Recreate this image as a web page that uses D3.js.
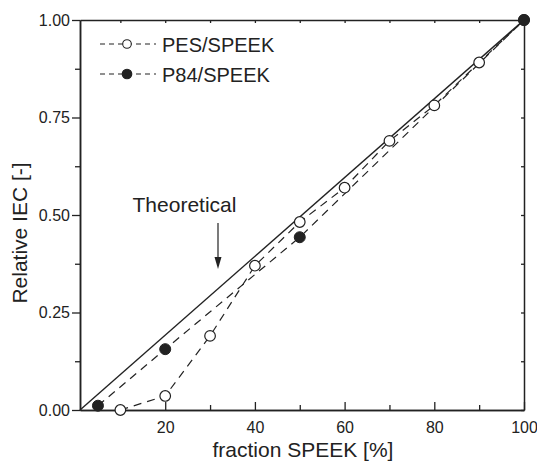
<!DOCTYPE html>
<html>
<head>
<meta charset="utf-8">
<script src="https://cdn.jsdelivr.net/npm/d3@7/dist/d3.min.js"></script>
<style>
  html, body { margin: 0; padding: 0; background: #fff; }
  svg { display: block; }
  text { font-family: "Liberation Sans", Arial, Helvetica, sans-serif; fill: #222; }
</style>
</head>
<body>
<svg id="chart" width="537" height="467"></svg>
<script>
// Relative ion exchange capacity of SPEEK blends
const pesFraction = [10, 20, 30, 40, 50, 60, 70, 80, 90, 100];
const pesIEC      = [0.00, 0.036, 0.19, 0.37, 0.482, 0.57, 0.69, 0.781, 0.891, 1.00];
const p84Fraction = [5, 20, 50, 100];
const p84IEC      = [0.011, 0.156, 0.443, 1.00];
const theoFraction = [1, 100];
const theoIEC      = [0, 1];
const xTickValues = [20, 40, 60, 80, 100];
const xMinorValues = [10, 30, 50, 70, 90];
const yTickValues = [0, 0.25, 0.5, 0.75, 1];
const yMinorValues = [0.125, 0.375, 0.625, 0.875];
const seriesNames = ["PES/SPEEK", "P84/SPEEK"];

const svg = d3.select("#chart");
const margin = { left: 80, top: 20, right: 13, bottom: 57 };
const W = 537, H = 467;
const x = d3.scaleLinear().domain([1, 100]).range([margin.left, W - margin.right]);
const y = d3.scaleLinear().domain([0, 1]).range([H - margin.bottom, margin.top]);
const ink = "#222";

// Axes: labelled bottom/left, plain mirror axes on top/right
const axisB = d3.axisBottom(x).tickValues(xTickValues).tickSize(-8).tickSizeOuter(0).tickPadding(12).tickFormat(d3.format("d"));
const axisBMinor = d3.axisBottom(x).tickValues(xMinorValues).tickSize(-5).tickSizeOuter(0).tickFormat("");
const axisL = d3.axisLeft(y).tickValues(yTickValues).tickSize(8).tickSizeOuter(0).tickPadding(2).tickFormat(d3.format(".2f"));
const axisLMinor = d3.axisLeft(y).tickValues(yMinorValues).tickSize(5).tickSizeOuter(0).tickFormat("");
const axisT = d3.axisTop(x).tickValues(xTickValues.concat(xMinorValues)).tickSize(-3).tickSizeOuter(0).tickFormat("");
const axisR = d3.axisRight(y).tickValues(yTickValues.concat(yMinorValues)).tickSize(-3).tickSizeOuter(0).tickFormat("");

function styleAxis(g) {
  g.selectAll("path").attr("stroke", ink).attr("stroke-width", 1.5);
  g.selectAll("line").attr("stroke", ink).attr("stroke-width", 1.3);
  g.selectAll("text").attr("font-size", 16).style("fill", ink);
}

svg.append("g").attr("transform", `translate(0,${y(0)})`).call(axisB).call(styleAxis);
svg.append("g").attr("transform", `translate(0,${y(0)})`).call(axisBMinor).call(styleAxis);
svg.append("g").attr("transform", `translate(${x(1)},0)`).call(axisL).call(styleAxis);
svg.append("g").attr("transform", `translate(${x(1)},0)`).call(axisLMinor).call(styleAxis);
svg.append("g").attr("transform", `translate(0,${y(1)})`).call(axisT).call(styleAxis);
svg.append("g").attr("transform", `translate(${x(100)},0)`).call(axisR).call(styleAxis);

// Axis titles
svg.append("text")
  .attr("x", (x(1) + x(100)) / 2 + 1).attr("y", 457)
  .attr("text-anchor", "middle").attr("font-size", 21)
  .text("fraction SPEEK [%]");
svg.append("text")
  .attr("transform", `translate(27,${(y(0) + y(1)) / 2 + 18}) rotate(-90)`)
  .attr("text-anchor", "middle").attr("font-size", 21)
  .text("Relative IEC [-]");

// Theoretical line
const line = d3.line().x(d => x(d[0])).y(d => y(d[1]));
svg.append("path")
  .datum(d3.zip(theoFraction, theoIEC))
  .attr("d", line).attr("fill", "none").attr("stroke", ink).attr("stroke-width", 1.4);

// Measured series
const pes = d3.zip(pesFraction, pesIEC);
const p84 = d3.zip(p84Fraction, p84IEC);
[pes, p84].forEach(data => {
  svg.append("path").datum(data).attr("d", line)
    .attr("fill", "none").attr("stroke", ink).attr("stroke-width", 1.2)
    .attr("stroke-dasharray", "8,6");
});
svg.append("g").selectAll("circle").data(pes).join("circle")
  .attr("cx", d => x(d[0])).attr("cy", d => y(d[1])).attr("r", 5.3)
  .attr("fill", "#fff").attr("stroke", ink).attr("stroke-width", 1.2);
svg.append("g").selectAll("circle").data(p84).join("circle")
  .attr("cx", d => x(d[0])).attr("cy", d => y(d[1])).attr("r", 5.5)
  .attr("fill", ink).attr("stroke", ink).attr("stroke-width", 1);

// Annotation for the theoretical line
svg.append("text").attr("x", 184.5).attr("y", 212)
  .attr("text-anchor", "middle").attr("font-size", 21).text("Theoretical");
svg.append("line").attr("x1", 218).attr("x2", 218).attr("y1", 223).attr("y2", 260)
  .attr("stroke", ink).attr("stroke-width", 1.2);
svg.append("path").attr("d", "M214.5,257 L221.5,257 L218,269 Z").attr("fill", ink);

// Legend
const legend = svg.append("g");
seriesNames.forEach((name, i) => {
  const ly = 44 + i * 30;
  const row = legend.append("g");
  row.append("line").attr("x1", 100).attr("x2", 156).attr("y1", ly).attr("y2", ly)
    .attr("stroke", ink).attr("stroke-width", 1.2).attr("stroke-dasharray", "5,4");
  row.append("circle").attr("cx", 127).attr("cy", ly).attr("r", i === 0 ? 4.3 : 4.8)
    .attr("fill", i === 0 ? "#fff" : ink).attr("stroke", ink).attr("stroke-width", 1.1);
  row.append("text").attr("x", 162).attr("y", ly + 7.5).attr("font-size", 20).text(name);
});
</script>
</body>
</html>
